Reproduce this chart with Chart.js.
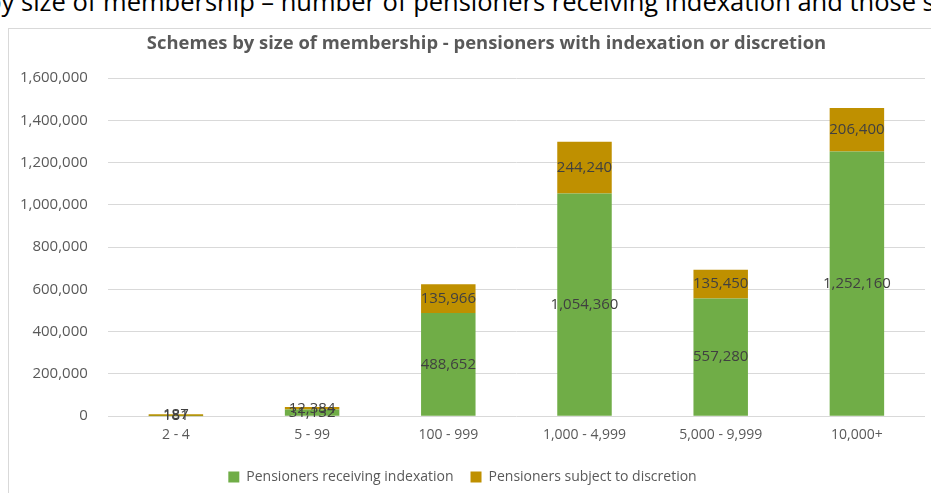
<!DOCTYPE html>
<html>
<head>
<meta charset="utf-8">
<script src="https://cdn.jsdelivr.net/npm/chart.js@4.4.0/dist/chart.umd.min.js"></script>
<style>
  html, body { margin: 0; padding: 0; background: #fff; overflow: hidden; }
  body { width: 931px; height: 493px; position: relative; }
  #heading {
    position: absolute; left: -14px; top: -14px; white-space: nowrap;
    font-family: "Open Sans", sans-serif; font-size: 25.5px; line-height: 30px; color: #000;
  }
  #frame {
    position: absolute; left: 8px; top: 28px; width: 1000px; height: 1000px;
    border: 1px solid #d9d9d9; box-sizing: border-box;
  }
  #wrap { position: absolute; left: 9px; top: 29px; width: 922px; height: 464px; }
</style>
</head>
<body>
<div id="heading">by size of membership – number of pensioners receiving indexation and those subject to discretion</div>
<div id="frame"></div>
<div id="wrap"><canvas id="schemeChart" width="922" height="464"></canvas></div>
<script>
const sizeBands = ['2 - 4', '5 - 99', '100 - 999', '1,000 - 4,999', '5,000 - 9,999', '10,000+'];

const indexation = [181, 31132, 488652, 1054360, 557280, 1252160];
const discretion = [187, 12384, 135966, 244240, 135450, 206400];

const yTicks = [0, 200000, 400000, 600000, 800000, 1000000, 1200000, 1400000, 1600000];

const fmt = v => Number(v).toLocaleString('en-US');

// labels in the middle of each bar segment
const barLabels = {
  id: 'barLabels',
  afterDatasetsDraw(chart) {
    const ctx = chart.ctx;
    ctx.save();
    ctx.font = '15px "Open Sans"';
    ctx.fillStyle = '#404040';
    ctx.textAlign = 'center';
    ctx.textBaseline = 'middle';
    chart.data.datasets.forEach((ds, i) => {
      chart.getDatasetMeta(i).data.forEach((bar, j) => {
        ctx.fillText(fmt(ds.data[j]), bar.x, (bar.y + bar.base) / 2);
      });
    });
    ctx.restore();
  }
};

// Excel centres the title on the whole frame, which runs past the window
const shiftTitle = {
  id: 'shiftTitle',
  afterLayout(chart) {
    if (chart.titleBlock) {
      chart.titleBlock.left += 24;
      chart.titleBlock.right += 24;
    }
  }
};

const ctx = document.getElementById('schemeChart').getContext('2d');

new Chart(ctx, {
  type: 'bar',
  data: {
    labels: sizeBands,
    datasets: [
      {
        label: 'Pensioners receiving indexation',
        data: indexation,
        backgroundColor: '#70AD47',
        barPercentage: 0.4,
        categoryPercentage: 1
      },
      {
        label: 'Pensioners subject to discretion',
        data: discretion,
        backgroundColor: '#BF9000',
        barPercentage: 0.4,
        categoryPercentage: 1,
        minBarLength: 2
      }
    ]
  },
  options: {
    responsive: false,
    animation: false,
    layout: { padding: { left: -9, right: 6, top: 0, bottom: -1 } },
    plugins: {
      title: {
        display: true,
        text: 'Schemes by size of membership - pensioners with indexation or discretion',
        color: '#595959',
        font: { family: 'Open Sans', size: 18.4, weight: 'bold' },
        padding: { top: 4, bottom: 23 }
      },
      legend: {
        position: 'bottom',
        labels: {
          color: '#595959',
          font: { family: 'Open Sans', size: 14 },
          boxWidth: 11,
          boxHeight: 11,
          padding: 17
        }
      },
      tooltip: { enabled: false }
    },
    scales: {
      x: {
        stacked: true,
        grid: { display: false, drawTicks: false },
        border: { display: false },
        ticks: { color: '#595959', font: { family: 'Open Sans', size: 14 }, padding: 10 }
      },
      y: {
        stacked: true,
        min: 0,
        max: 1600000,
        afterBuildTicks(axis) { axis.ticks = yTicks.map(v => ({ value: v })); },
        grid: { color: '#d9d9d9', drawTicks: false },
        border: { display: false },
        ticks: {
          color: '#595959',
          font: { family: 'Open Sans', size: 15 },
          padding: 20,
          callback: v => fmt(v)
        }
      }
    }
  },
  plugins: [barLabels, shiftTitle]
});
</script>
</body>
</html>
